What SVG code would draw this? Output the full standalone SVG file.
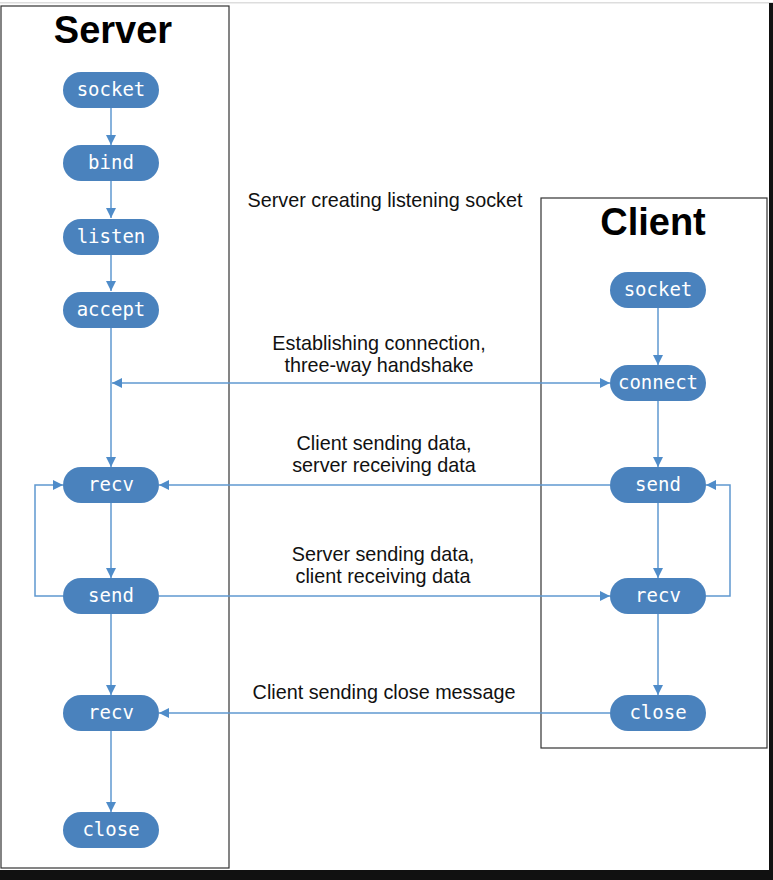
<svg xmlns="http://www.w3.org/2000/svg" width="773" height="880" viewBox="0 0 773 880">
<defs>
<style>
.box{fill:none;stroke:#333;stroke-width:1.2}
.node rect{fill:#4a82bd}
.node text{fill:#fff;font-family:"DejaVu Sans Mono","Liberation Mono",monospace;font-size:19px;text-anchor:middle}
.title{font-family:"Liberation Sans",Arial,sans-serif;font-weight:bold;font-size:38px;fill:#000;text-anchor:middle}
.lbl{font-family:"Liberation Sans",Arial,sans-serif;font-size:19.8px;fill:#111;text-anchor:middle}
.c{fill:none;stroke:#5f98d0;stroke-width:1.5}
</style>
<marker id="ah" viewBox="0 0 10 10" refX="10" refY="5" markerWidth="13" markerHeight="10" markerUnits="userSpaceOnUse" orient="auto-start-reverse">
<path d="M0,0 L10,5 L0,10 z" fill="#4f8cc9"/>
</marker>
</defs>
<rect x="0" y="0" width="773" height="880" fill="#fff"/>
<rect x="0" y="2" width="773" height="1.5" fill="#ddd"/>
<rect x="769" y="3" width="4" height="877" fill="#111"/>
<rect x="0" y="870" width="773" height="10" fill="#111"/>

<g id="server-box">
<rect class="box" x="1" y="6" width="228" height="862"/>
<text class="title" x="113" y="43">Server</text>
</g>
<g id="client-box">
<rect class="box" x="541" y="198" width="226" height="550"/>
<text class="title" x="653" y="235">Client</text>
</g>

<g id="labels">
<text class="lbl" x="385" y="207">Server creating listening socket</text>
<text class="lbl" x="379" y="350">Establishing connection,</text>
<text class="lbl" x="379" y="372">three-way handshake</text>
<text class="lbl" x="384" y="450">Client sending data,</text>
<text class="lbl" x="384" y="472">server receiving data</text>
<text class="lbl" x="383" y="561">Server sending data,</text>
<text class="lbl" x="383" y="583">client receiving data</text>
<text class="lbl" x="384" y="699">Client sending close message</text>
</g>

<g id="connectors">
<line class="c" x1="111" y1="108" x2="111" y2="145" marker-end="url(#ah)"/>
<line class="c" x1="111" y1="181" x2="111" y2="218" marker-end="url(#ah)"/>
<line class="c" x1="111" y1="255" x2="111" y2="291" marker-end="url(#ah)"/>
<line class="c" x1="111" y1="328" x2="111" y2="467" marker-end="url(#ah)"/>
<line class="c" x1="112" y1="383" x2="610" y2="383" marker-start="url(#ah)" marker-end="url(#ah)"/>
<line class="c" x1="111" y1="503" x2="111" y2="578" marker-end="url(#ah)"/>
<polyline class="c" points="63,596 35,596 35,485 63,485" marker-end="url(#ah)"/>
<line class="c" x1="111" y1="614" x2="111" y2="695" marker-end="url(#ah)"/>
<line class="c" x1="111" y1="731" x2="111" y2="812" marker-end="url(#ah)"/>
<line class="c" x1="610" y1="485" x2="159" y2="485" marker-end="url(#ah)"/>
<line class="c" x1="159" y1="596" x2="610" y2="596" marker-end="url(#ah)"/>
<line class="c" x1="610" y1="713" x2="159" y2="713" marker-end="url(#ah)"/>
<line class="c" x1="658" y1="308" x2="658" y2="365" marker-end="url(#ah)"/>
<line class="c" x1="658" y1="401" x2="658" y2="467" marker-end="url(#ah)"/>
<line class="c" x1="658" y1="503" x2="658" y2="578" marker-end="url(#ah)"/>
<line class="c" x1="658" y1="614" x2="658" y2="695" marker-end="url(#ah)"/>
<polyline class="c" points="706,596 730,596 730,485 706,485" marker-end="url(#ah)"/>
</g>

<g id="s-socket" class="node"><rect x="63" y="72" width="96" height="36" rx="18"/><text x="111" y="96">socket</text></g>
<g id="s-bind" class="node"><rect x="63" y="145" width="96" height="36" rx="18"/><text x="111" y="169">bind</text></g>
<g id="s-listen" class="node"><rect x="63" y="219" width="96" height="36" rx="18"/><text x="111" y="243">listen</text></g>
<g id="s-accept" class="node"><rect x="63" y="292" width="96" height="36" rx="18"/><text x="111" y="316">accept</text></g>
<g id="s-recv" class="node"><rect x="63" y="467" width="96" height="36" rx="18"/><text x="111" y="491">recv</text></g>
<g id="s-send" class="node"><rect x="63" y="578" width="96" height="36" rx="18"/><text x="111" y="602">send</text></g>
<g id="s-recv2" class="node"><rect x="63" y="695" width="96" height="36" rx="18"/><text x="111" y="719">recv</text></g>
<g id="s-close" class="node"><rect x="63" y="812" width="96" height="36" rx="18"/><text x="111" y="836">close</text></g>

<g id="c-socket" class="node"><rect x="610" y="272" width="96" height="36" rx="18"/><text x="658" y="296">socket</text></g>
<g id="c-connect" class="node"><rect x="610" y="365" width="96" height="36" rx="18"/><text x="658" y="389">connect</text></g>
<g id="c-send" class="node"><rect x="610" y="467" width="96" height="36" rx="18"/><text x="658" y="491">send</text></g>
<g id="c-recv" class="node"><rect x="610" y="578" width="96" height="36" rx="18"/><text x="658" y="602">recv</text></g>
<g id="c-close" class="node"><rect x="610" y="695" width="96" height="36" rx="18"/><text x="658" y="719">close</text></g>
</svg>
